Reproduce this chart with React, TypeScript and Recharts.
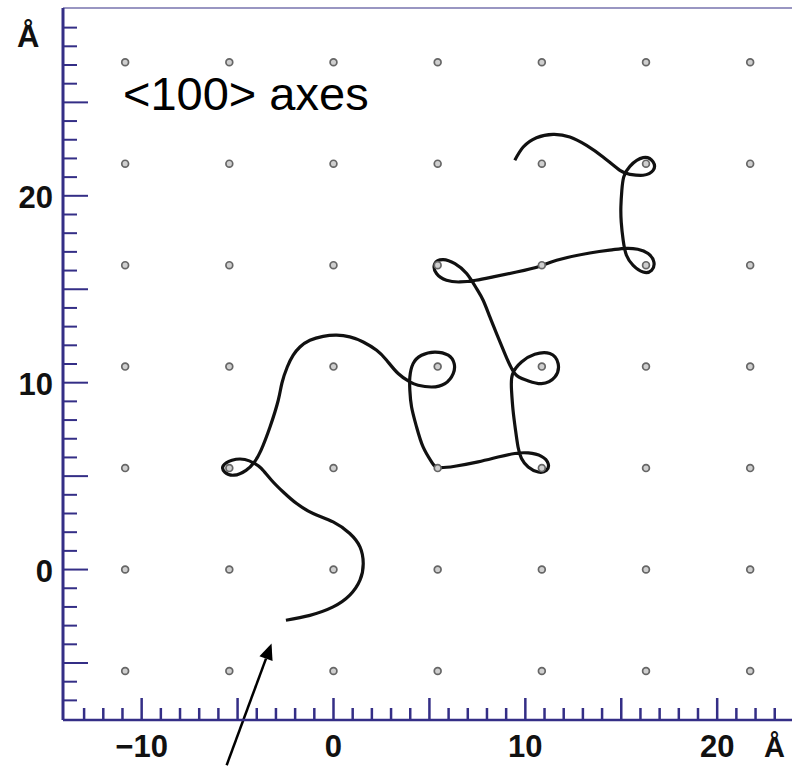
import { ComposedChart, Line, Scatter, XAxis, YAxis, ReferenceLine } from 'recharts'

const AXIS_COLOR = '#342e86'
const LABEL_FONT = '"Liberation Sans", Arial, sans-serif'

// silicon lattice sites, a = 5.43 Å
const latticeCols = [-10.86, -5.43, 0, 5.43, 10.86, 16.29, 21.72]
const latticeRows = [-5.43, 0, 5.43, 10.86, 16.29, 21.72, 27.15]

// channeled ion trajectory (Å)
const pathX = [
  -2.48, -1.23, -0.02, 0.85, 1.38, 1.55, 1.38, 0.85, -0.02, -1.06, -1.92, -2.62, -3.23,
  -3.75, -4.1, -4.62, -5.29, -5.75, -5.66, -5.19, -4.56, -4.12, -3.78, -3.31, -2.88,
  -2.69, -2.41, -2.1, -1.75, -1.23, -0.54, 0.16, 0.85, 1.55, 2.25, 2.77, 3.37, 3.98,
  4.41, 5.11, 5.81, 6.24, 6.29, 5.98, 5.28, 4.59, 4.15, 3.98, 3.98, 4.07, 4.33, 4.67,
  5.11, 5.46, 6.33, 7.54, 8.58, 9.45, 10.15, 10.84, 11.19, 11.1, 10.67, 10.15, 9.8,
  9.62, 9.49, 9.36, 9.28, 9.33, 9.8, 10.49, 11.28, 11.71, 11.54, 10.84, 10.06, 9.45,
  8.93, 8.5, 8.15, 7.8, 7.46, 6.94, 6.33, 5.72, 5.28, 5.37, 5.89, 6.59, 7.42, 8.32,
  9.54, 10.76, 11.63, 13.36, 14.51, 15.24, 15.86, 16.4, 16.7, 16.58, 16.14, 15.62,
  15.27, 15.1, 15.0, 14.98, 15.03, 15.13, 15.45, 16.14, 16.66, 16.66, 16.14, 15.45,
  14.93, 14.05, 13.19, 12.32, 11.45, 10.58, 9.89, 9.45,
]
const pathY = [
  -2.71, -2.45, -2.0, -1.37, -0.57, 0.32, 1.21, 1.93, 2.55, 3.0, 3.53, 4.15, 4.78,
  5.4, 5.67, 5.89, 5.85, 5.55, 5.21, 5.05, 5.31, 5.76, 6.38, 7.63, 9.06,
  9.97, 10.84, 11.47, 11.91, 12.27, 12.48, 12.54, 12.45, 12.18, 11.73, 11.2, 10.49, 10.04,
  9.86, 9.77, 9.95, 10.49, 11.02, 11.47, 11.64, 11.47, 11.02, 10.3, 9.59, 8.7, 7.63, 6.56,
  5.76, 5.46, 5.53, 5.76, 6.02, 6.21, 6.24, 6.06, 5.67, 5.31, 5.22, 5.49, 5.94,
  6.56, 7.45, 8.52, 9.59, 10.45, 11.11, 11.52, 11.56, 11.02, 10.3, 9.95, 10.13, 10.49,
  11.56, 12.63, 13.52, 14.41, 15.03, 15.84, 16.37, 16.59, 16.37, 15.84, 15.48, 15.39, 15.48, 15.66,
  15.92, 16.23, 16.55, 16.94, 17.11, 17.19, 17.14, 16.91, 16.46, 16.01, 15.92, 16.28,
  16.82, 17.62, 18.58, 19.4, 20.29, 21.01, 21.58, 22.04, 21.81, 21.36, 21.1, 21.15,
  21.36, 22.08, 22.7, 23.15, 23.29, 23.11, 22.61, 21.9,
]

const xTicks = [
  -13, -12, -11, -10, -9, -8, -7, -6, -5, -4, -3, -2, -1, 0, 1, 2, 3, 4, 5, 6, 7, 8, 9,
  10, 11, 12, 13, 14, 15, 16, 17, 18, 19, 20, 21, 22, 23,
]
const yTicks = [
  -7, -6, -5, -4, -3, -2, -1, 0, 1, 2, 3, 4, 5, 6, 7, 8, 9, 10, 11, 12, 13, 14, 15, 16,
  17, 18, 19, 20, 21, 22, 23, 24, 25, 26, 27, 28, 29,
]

const X_DOMAIN: [number, number] = [-14.1, 23.9]
const Y_DOMAIN: [number, number] = [-8.05, 30.05]

// arrow pointing at the entry point of the trajectory
const arrowTail = { x: -5.57, y: -10.47 }
const arrowTip = { x: -3.23, y: -3.96 }

const trajectory = pathX.map((x, i) => ({ x, y: pathY[i] }))
const atoms = latticeCols.flatMap((x) => latticeRows.map((y) => ({ x, y })))

const fmt = (v: number) => (v < 0 ? '\u2212' + Math.abs(v) : String(v))

const XTick = (props: any) => {
  const { x, y, payload } = props
  const v = payload.value
  const major = v % 5 === 0
  return (
    <g>
      <line x1={x} x2={x} y1={y} y2={y - (major ? 22 : 12)} stroke={AXIS_COLOR} strokeWidth={2.5} />
      {v % 10 === 0 && (
        <text x={x} y={y + 37} textAnchor="middle" fontFamily={LABEL_FONT} fontWeight="bold" fontSize={31} fill="#111">
          {fmt(v)}
        </text>
      )}
    </g>
  )
}

const YTick = (props: any) => {
  const { x, y, payload } = props
  const v = payload.value
  const major = v % 5 === 0
  return (
    <g>
      <line x1={x} x2={x + (major ? 25 : 14)} y1={y} y2={y} stroke={AXIS_COLOR} strokeWidth={2} />
      {v % 10 === 0 && (
        <text x={x - 10} y={y + 12} textAnchor="end" fontFamily={LABEL_FONT} fontWeight="bold" fontSize={31} fill="#111">
          {fmt(v)}
        </text>
      )}
    </g>
  )
}

const Atom = (props: any) => {
  const { cx, cy } = props
  return <circle cx={cx} cy={cy} r={3.4} fill="#cfcfcf" stroke="#666" strokeWidth={1.7} />
}

const Arrow = (props: any) => {
  const { x1, y1, x2, y2 } = props
  const dx = x2 - x1
  const dy = y2 - y1
  const len = Math.sqrt(dx * dx + dy * dy) || 1
  const ux = dx / len
  const uy = dy / len
  const head = 16
  const half = 7
  const bx = x2 - ux * head
  const by = y2 - uy * head
  return (
    <g>
      <line x1={x1} y1={y1} x2={bx} y2={by} stroke="#000" strokeWidth={2.5} />
      <polygon
        points={`${x2},${y2} ${bx - uy * half},${by + ux * half} ${bx + uy * half},${by - ux * half}`}
        fill="#000"
      />
    </g>
  )
}

export default function App() {
  return (
    <div style={{ position: 'relative', width: 792, height: 766, background: '#fff' }}>
      <style>{'body{margin:0}'}</style>
      <ComposedChart
        width={792}
        height={766}
        data={trajectory}
        margin={{ top: 8, right: 0, bottom: 0, left: 0 }}
      >
        <XAxis
          type="number"
          dataKey="x"
          domain={X_DOMAIN}
          allowDataOverflow
          ticks={xTicks}
          interval={0}
          tick={<XTick />}
          tickLine={false}
          tickSize={0}
          tickMargin={0}
          height={46}
          axisLine={{ stroke: AXIS_COLOR, strokeWidth: 2.5 }}
        />
        <YAxis
          type="number"
          dataKey="y"
          domain={Y_DOMAIN}
          allowDataOverflow
          ticks={yTicks}
          interval={0}
          tick={<YTick />}
          tickLine={false}
          tickSize={0}
          tickMargin={0}
          width={63}
          axisLine={{ stroke: AXIS_COLOR, strokeWidth: 3 }}
        />
        <ReferenceLine y={Y_DOMAIN[1]} stroke={AXIS_COLOR} strokeWidth={1.2} />
        <Scatter data={atoms} shape={<Atom />} isAnimationActive={false} />
        <Line
          type="natural"
          dataKey="y"
          stroke="#111"
          strokeWidth={3.2}
          dot={false}
          activeDot={false}
          isAnimationActive={false}
        />
        <ReferenceLine
          segment={[arrowTail, arrowTip]}
          ifOverflow="visible"
          shape={(p: any) => <Arrow {...p} />}
        />
      </ComposedChart>
      <svg
        width={792}
        height={766}
        style={{ position: 'absolute', left: 0, top: 0, pointerEvents: 'none' }}
      >
        <text x={123} y={110} fontFamily={LABEL_FONT} fontSize={47} fill="#000">
          {'<100> axes'}
        </text>
        <text x={17} y={47} fontFamily={LABEL_FONT} fontWeight="bold" fontSize={31} fill="#111">
          Å
        </text>
        <text x={764} y={757} fontFamily={LABEL_FONT} fontWeight="bold" fontSize={29} fill="#111">
          Å
        </text>
      </svg>
    </div>
  )
}
